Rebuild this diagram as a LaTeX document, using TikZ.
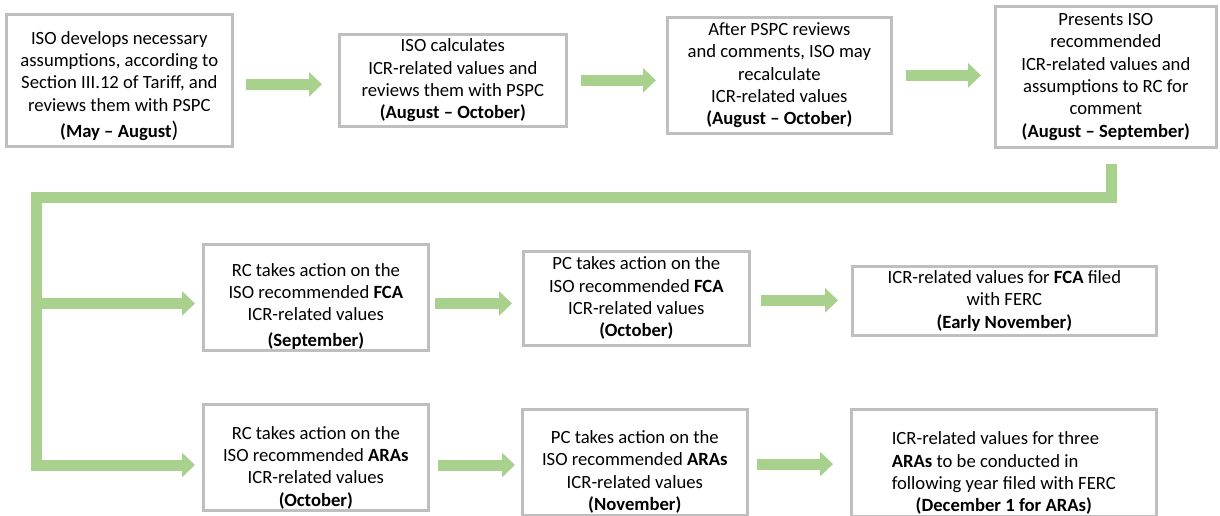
\documentclass[tikz,border=0pt]{standalone}
\usepackage{fontspec}
\setmainfont{Carlito}
\usepackage{tikz}
\usetikzlibrary{arrows.meta,calc}
\definecolor{boxgray}{RGB}{191,191,191}
\definecolor{arrowgreen}{RGB}{169,209,142}
\begin{document}
\begin{tikzpicture}[x=0.6pt, y=-0.6pt,
		box/.style={draw=boxgray, line width=1.6pt, fill=white, anchor=north west, align=center, inner sep=1pt, font=\fontsize{11.2}{13.4}\selectfont},
		flow/.style={draw=arrowgreen, line width=6.6pt, -{Triangle[width=14.4pt,length=7.8pt]}}]
		\useasboundingbox (0,0) rectangle (1220,515);
		% first row: preparation of the values
		\node[box, minimum width=135.6pt, minimum height=79.2pt] (dev) at (5,13) {\rule{0pt}{14.4pt}ISO develops necessary\\assumptions, according to\\Section III.12 of Tariff, and\\reviews them with PSPC\\[2.4pt]\textbf{(May – August}{\fontsize{13.5}{13.4}\selectfont)}};
		\node[box, minimum width=136.2pt, minimum height=55.2pt] (calc) at (338,33) {ISO calculates\\ICR-related values and\\reviews them with PSPC\\\textbf{(August – October)}};
		\node[box, minimum width=134.4pt, minimum height=69.6pt] (recalc) at (666,16) {After PSPC reviews\\and comments, ISO may\\recalculate\\ICR-related values\\\textbf{(August – October)}};
		\node[box, minimum width=132.6pt, minimum height=84.6pt] (present) at (994,5) {Presents ISO\\recommended\\ICR-related values and\\assumptions to RC for\\comment\\\textbf{(August – September)}};
		% FCA row
		\node[box, minimum width=135pt, minimum height=62.4pt] (rcfca) at (202,243) {\rule{0pt}{18pt}RC takes action on the\\ISO recommended \textbf{FCA}\\ICR-related values\\[1.8pt]\textbf{(September)}};
		\node[box, minimum width=135.6pt, minimum height=56.4pt] (pcfca) at (522,250) {PC takes action on the\\ISO recommended \textbf{FCA}\\ICR-related values\\\textbf{(October)}};
		\node[box, minimum width=182.4pt, minimum height=41.4pt] (fcafiled) at (851,265) {ICR-related values for \textbf{FCA} filed\\with FERC\\\textbf{(Early November)}};
		% ARA row
		\node[box, minimum width=135pt, minimum height=63pt] (rcara) at (202,403) {\rule{0pt}{19.9pt}RC takes action on the\\ISO recommended \textbf{ARAs}\\ICR-related values\\\textbf{(October)}};
		\node[box, minimum width=135pt, minimum height=62.4pt] (pcara) at (521,408) {\rule{0pt}{19.4pt}PC takes action on the\\ISO recommended \textbf{ARAs}\\ICR-related values\\\textbf{(November)}};
		\node[box, minimum width=183pt, minimum height=61.2pt] (arafiled) at (850,408) {\begin{tabular}{@{}l@{}}\rule{0pt}{20.3pt}ICR-related values for three\\\textbf{ARAs} to be conducted in\\following year filed with FERC\end{tabular}\\\textbf{(December 1 for ARAs)}};

		\draw[flow, shorten <=7.2pt, shorten >=9.6pt] ([yshift=-2.4pt]dev.east) -- ([yshift=-2.4pt]dev.east -| calc.west);
		\draw[flow, shorten <=7.8pt, shorten >=6pt] (calc.east) -- (calc.east -| recalc.west);
		\draw[flow, shorten <=7.8pt, shorten >=7.8pt] (recalc.east) -- (recalc.east -| present.west);
		\draw[flow, shorten <=3pt, shorten >=6pt] ([yshift=-3.6pt]rcfca.east) -- ([yshift=-3.6pt]rcfca.east -| pcfca.west);
		\draw[flow, shorten <=6pt, shorten >=7.8pt] ([yshift=-1.2pt]pcfca.east) -- ([yshift=-1.2pt]pcfca.east -| fcafiled.west);
		\draw[flow, shorten <=4.8pt, shorten >=3.6pt] ([yshift=-4.5pt]rcara.east) -- ([yshift=-4.5pt]rcara.east -| pcara.west);
		\draw[flow, shorten <=4.8pt, shorten >=10.2pt] ([yshift=-1.2pt]pcara.east) -- ([yshift=-1.2pt]pcara.east -| arafiled.west);

		% trunk down the left side, feeding both rows
		\coordinate (trunk) at (36.5,197.5);
		\draw[flow, shorten >=4.2pt] ($(present.south)+(5.5,15)$) |- (trunk) |- ([yshift=-4.5pt]rcara.west);
		\draw[flow, shorten >=4.2pt] ($(trunk |- rcfca.west)+(0,6)$) -- ($(rcfca.west)+(0,6)$);
	\end{tikzpicture}
\end{document}
